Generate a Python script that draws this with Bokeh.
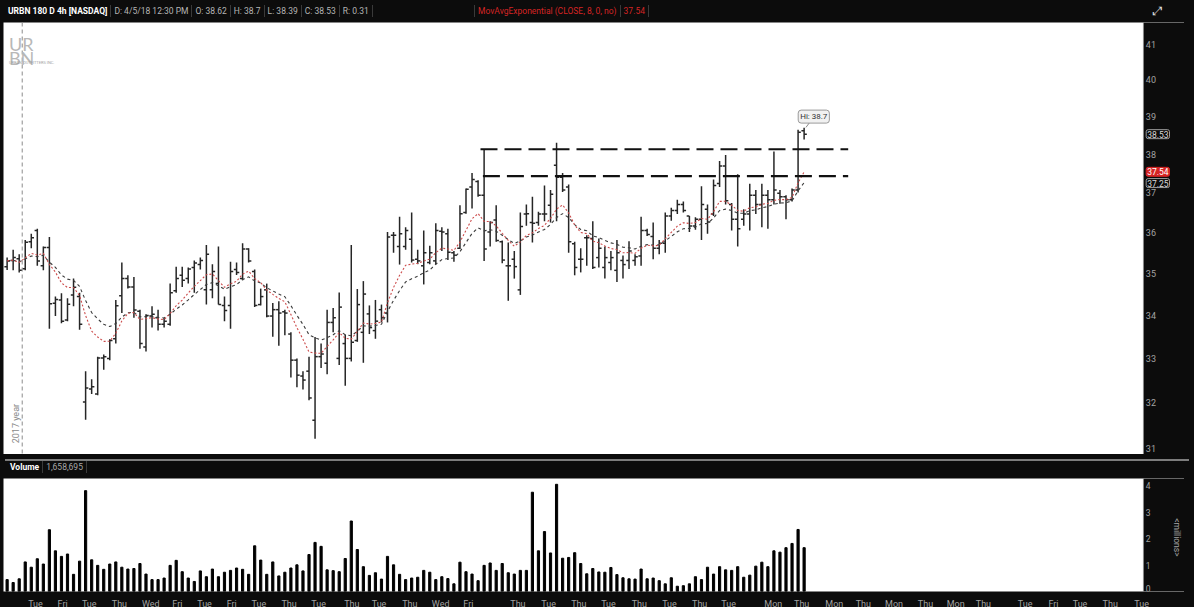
import numpy as np
import pandas as pd
from bokeh.plotting import figure
from bokeh.models import Range1d, FixedTicker, Span, Label, Div, ColumnDataSource
from bokeh.layouts import column
from bokeh.embed import file_html
from bokeh.resources import INLINE
from bokeh.core.properties import value

# ---------------- data ----------------
opens = [35.16, 35.31, 35.35, 35.11, 35.77, 36.05, 35.18, 35.63, 34.28, 34.36,
         33.89, 34.48, 34.44, 32.02, 32.31, 32.20, 33.01, 33.00, 33.45, 34.46,
         34.87, 34.67, 34.09, 33.26, 33.98, 33.94, 33.79, 33.79, 34.58, 34.95,
         34.87, 35.14, 35.21, 34.60, 34.60, 34.75, 34.23, 34.23, 35.09, 34.87,
         35.59, 35.04, 34.25, 34.60, 33.98, 34.13, 34.08, 33.56, 32.96, 32.60,
         32.71, 31.62, 33.04, 32.89, 33.83, 33.00, 33.34, 33.00, 33.41, 33.60,
         34.03, 33.64, 34.13, 34.05, 35.93, 35.65, 35.65, 35.83, 35.34, 35.18,
         35.26, 35.30, 36.03, 35.97, 35.50, 35.61, 36.50, 37.15, 37.29, 36.94,
         36.01, 36.31, 35.77, 35.18, 35.34, 34.60, 36.46, 36.25, 36.25, 36.46,
         36.68, 37.71, 37.40, 37.15, 35.72, 35.34, 35.87, 35.85, 35.38, 35.14,
         35.26, 35.07, 35.31, 35.31, 35.31, 35.42, 36.05, 35.90, 35.61, 35.73,
         36.41, 36.55, 36.70, 36.41, 36.16, 36.33, 36.58, 36.46, 37.24, 37.69,
         36.70, 36.33, 36.33, 36.46, 36.94, 36.70, 36.94, 36.82, 36.99, 36.90,
         36.82, 37.07, 38.62]
highs = [35.38, 35.57, 35.46, 35.81, 35.97, 36.09, 35.65, 35.89, 34.44, 34.52,
         34.40, 34.87, 34.53, 32.71, 32.53, 33.04, 33.09, 33.44, 34.36, 35.26,
         34.95, 34.91, 34.13, 34.02, 34.21, 34.13, 33.94, 34.75, 35.16, 35.16,
         35.14, 35.31, 35.38, 35.69, 35.22, 35.65, 34.44, 35.28, 35.26, 35.73,
         35.61, 35.09, 34.63, 34.75, 34.29, 34.33, 34.13, 33.60, 33.00, 32.71,
         33.04, 33.49, 33.34, 34.13, 34.17, 34.54, 33.55, 35.69, 34.62, 34.81,
         34.23, 34.36, 34.25, 36.01, 36.01, 36.39, 36.13, 36.50, 35.57, 36.05,
         35.67, 36.23, 36.13, 36.09, 35.54, 36.68, 37.11, 37.51, 37.32, 38.13,
         36.28, 36.68, 35.80, 35.75, 35.54, 36.50, 36.70, 36.90, 36.52, 37.19,
         37.07, 38.30, 37.51, 37.21, 35.77, 35.61, 35.93, 36.28, 35.85, 35.65,
         35.54, 35.81, 35.43, 35.78, 35.46, 36.39, 36.09, 36.25, 35.81, 36.50,
         36.62, 36.82, 36.78, 36.41, 36.38, 37.17, 36.70, 37.34, 37.82, 37.98,
         36.74, 37.48, 36.58, 37.23, 37.07, 37.23, 37.07, 38.07, 37.07, 36.94,
         37.11, 38.65, 38.70]
lows = [35.08, 35.07, 35.02, 35.07, 35.61, 35.18, 35.07, 33.68, 33.98, 33.81,
        33.86, 34.21, 33.66, 31.63, 32.20, 32.17, 32.74, 32.96, 33.34, 34.05,
        34.63, 33.94, 33.22, 33.16, 33.71, 33.64, 33.71, 33.75, 34.53, 34.67,
        34.75, 34.53, 35.09, 34.25, 34.40, 34.25, 33.86, 33.68, 34.96, 34.83,
        35.26, 34.19, 34.23, 33.95, 33.50, 33.29, 33.53, 32.57, 32.35, 32.30,
        32.06, 31.22, 32.78, 32.64, 33.60, 32.85, 32.38, 32.93, 33.38, 32.90,
        33.56, 33.45, 33.83, 33.83, 35.50, 35.21, 35.57, 35.26, 35.22, 34.73,
        35.22, 35.22, 35.54, 35.32, 35.28, 35.59, 36.47, 36.60, 36.90, 35.30,
        35.65, 35.77, 35.24, 34.34, 34.87, 34.48, 36.17, 35.75, 36.17, 36.28,
        36.25, 36.28, 37.02, 35.50, 34.95, 35.02, 35.18, 35.10, 35.14, 34.87,
        35.07, 34.79, 34.87, 35.10, 35.18, 35.18, 35.91, 35.34, 35.46, 35.50,
        36.29, 36.46, 36.50, 36.01, 36.07, 35.81, 35.97, 36.41, 37.15, 36.70,
        36.05, 35.65, 36.17, 36.05, 36.46, 36.13, 36.09, 36.70, 36.72, 36.33,
        36.78, 37.01, 38.39]
closes = [35.30, 35.38, 35.07, 35.76, 35.87, 35.30, 35.63, 34.27, 34.37, 33.86,
          34.26, 34.66, 33.79, 32.33, 32.36, 33.01, 33.04, 33.41, 34.22, 34.87,
          34.67, 34.12, 33.34, 33.99, 34.02, 33.79, 33.86, 34.53, 34.87, 34.83,
          35.10, 35.25, 35.31, 35.46, 35.04, 34.25, 34.11, 35.04, 35.02, 35.59,
          35.30, 34.23, 34.44, 33.98, 34.13, 34.05, 34.05, 32.96, 32.62, 32.51,
          32.11, 33.04, 33.10, 33.83, 33.94, 34.19, 33.00, 33.37, 34.25, 34.50,
          33.71, 33.86, 33.94, 35.89, 35.93, 35.97, 36.05, 35.32, 35.30, 35.50,
          35.50, 36.05, 36.01, 35.51, 35.44, 36.47, 37.09, 37.34, 36.94, 35.59,
          36.25, 35.80, 35.32, 35.18, 35.16, 36.15, 36.47, 36.23, 36.46, 36.46,
          36.96, 37.40, 37.07, 35.77, 35.14, 35.34, 35.87, 35.14, 35.61, 35.38,
          35.38, 35.50, 35.21, 35.54, 35.40, 36.05, 35.95, 35.61, 35.73, 36.41,
          36.55, 36.70, 36.55, 36.16, 36.33, 36.70, 36.26, 37.19, 37.69, 36.80,
          36.33, 36.09, 36.46, 36.94, 36.70, 36.94, 36.82, 37.07, 36.90, 36.82,
          37.07, 38.58, 38.53]
volumes_m = [0.45, 0.34, 0.48, 1.12, 0.92, 1.24, 1.04, 2.34, 1.54, 1.33,
             1.42, 0.65, 1.15, 3.82, 1.20, 0.99, 0.84, 1.04, 1.12, 0.92,
             0.85, 0.87, 1.06, 0.66, 0.45, 0.45, 0.51, 0.99, 1.18, 0.75,
             0.51, 0.38, 0.78, 0.56, 0.85, 0.56, 0.73, 0.80, 0.89, 0.84,
             0.65, 1.73, 1.19, 0.65, 1.12, 0.59, 0.73, 0.89, 1.01, 0.78,
             1.40, 1.86, 1.71, 0.82, 0.79, 0.75, 1.25, 2.67, 1.59, 0.94,
             0.61, 0.71, 0.47, 1.33, 1.01, 0.65, 0.45, 0.51, 0.54, 0.80,
             0.73, 0.45, 0.56, 0.49, 0.29, 1.11, 0.75, 0.66, 0.41, 0.99,
             1.08, 0.80, 1.06, 0.71, 0.66, 0.80, 0.80, 3.76, 1.54, 2.27,
             1.46, 4.06, 1.26, 1.29, 1.47, 1.06, 0.67, 0.87, 0.74, 0.73,
             0.91, 0.64, 0.52, 0.48, 0.47, 0.85, 0.48, 0.51, 0.41, 0.29,
             0.52, 0.20, 0.22, 0.29, 0.56, 0.45, 0.92, 0.66, 0.94, 0.82,
             0.80, 0.94, 0.54, 0.62, 0.96, 1.11, 0.94, 1.54, 1.49, 1.66,
             1.82, 2.35, 1.66]

price_ticks = [31, 32, 33, 34, 35, 36, 37, 38, 39, 40, 41]
price_tick_labels = ["31", "32", "33", "34", "35", "36", "37", "38", "39", "40", "41"]
volume_ticks = [0, 1, 2, 3, 4]
volume_tick_labels = ["0", "1", "2", "3", "4"]
day_tick_pos = [4.7, 9.2, 13.6, 18.6, 23.8, 28.2, 32.7, 37.2, 41.7, 46.7, 51.6, 57.1,
                61.6, 66.7, 71.8, 76.4, 84.6, 89.7, 94.7, 99.6, 104.7, 109.7, 114.7,
                119.5, 126.9, 131.6, 137.0, 141.8, 146.9, 152.1, 157.1, 161.7, 168.6,
                173.3, 177.7, 182.7, 187.9]
day_tick_labels = ["Tue", "Fri", "Tue", "Thu", "Wed", "Fri", "Tue", "Fri", "Tue", "Thu", "Tue", "Thu",
                   "Tue", "Thu", "Wed", "Fri", "Thu", "Tue", "Thu", "Tue", "Thu", "Tue", "Thu",
                   "Tue", "Mon", "Thu", "Mon", "Thu", "Mon", "Thu", "Mon", "Thu", "Tue",
                   "Fri", "Tue", "Thu", "Tue"]

level_prices = [38.13, 37.43]
level_start = [78.4, 78.8]
level_end = [139.3, 139.3]
year_mark = 2.5
flag_values = [38.53, 37.54, 37.25]
flag_texts = ["38.53", "37.54", "37.25"]

idx = list(range(len(closes)))
ema_fast = pd.Series(closes).ewm(span=8, adjust=False).mean().tolist()
ema_slow = pd.Series(closes).ewm(span=13, adjust=False).mean().tolist()

# ---------------- styling ----------------
W = 1184
BG = "#0c0c0c"
AX = "#a3a3a3"
BAR = "#262626"
FONT = "Roboto"
X0, XEDGE, X1 = -0.6, 188.2, 195.0      # data range; XEDGE = right edge of the chart area
PY0, PY1 = 30.88, 41.62
VY0, VY1 = 0.0, 4.28

SEP = "border-right:1px solid #3a3a3a;"

def item(text, color, bold=False, extra=""):
    fw = "bold" if bold else "normal"
    return (f'<span style="padding:0 3px;color:{color};font-weight:{fw};{SEP}'
            f'white-space:nowrap;{extra}">{text}</span>')

left_group = "".join([
    item("URBN 180 D 4h [NASDAQ]", "#ffffff", True),
    item("D: 4/5/18 12:30 PM", "#b5b5b5"),
    item("O: 38.62", "#b5b5b5"),
    item("H: 38.7", "#b5b5b5"),
    item("L: 38.39", "#b5b5b5"),
    item("C: 38.53", "#b5b5b5"),
    item("R: 0.31", "#b5b5b5"),
])
red_group = "".join([
    item("", "#777", extra="width:18px;display:inline-block;height:12px;"),
    item("MovAvgExponential (CLOSE, 8, 0, no)", "#d42424"),
    item("37.54", "#d42424"),
])
header_html = (
    f'<div style="position:relative;width:{W}px;height:12px;font-family:{FONT};'
    f'font-size:8.5px;line-height:12px;">'
    f'<div style="position:absolute;left:0;top:0;display:flex;height:12px;">{left_group}</div>'
    f'<div style="position:absolute;left:452px;top:0;display:flex;height:12px;">{red_group}</div>'
    '<div style="position:absolute;left:1148px;top:0;color:#e0e0e0;font-family:DejaVu Sans;'
    'font-size:12px;line-height:12px;">&#x2922;</div>'
    '</div>')
header = Div(text=header_html, width=W, height=12,
             styles={"background-color": BG, "overflow": "hidden"})

# ---------------- price panel ----------------
p = figure(width=W, height=432, y_axis_type="log",
           x_range=Range1d(X0, X1), y_range=Range1d(PY0, PY1),
           output_backend="svg", toolbar_location=None,
           min_border_left=3, min_border_right=0, min_border_top=0, min_border_bottom=0,
           background_fill_color="white", border_fill_color=BG, outline_line_color=None)
p.axis.visible = False
p.grid.visible = False

src = ColumnDataSource(dict(x=idx, o=opens, h=highs, l=lows, c=closes,
                            xl=[i - 0.45 for i in idx], xr=[i + 0.45 for i in idx]))
p.segment("x", "l", "x", "h", source=src, line_color=BAR, line_width=1.5)
p.segment("xl", "o", "x", "o", source=src, line_color=BAR, line_width=1.5)
p.segment("x", "c", "xr", "c", source=src, line_color=BAR, line_width=1.5)

p.line(idx, ema_slow, line_color="#3c3c3c", line_dash="3 3", line_width=1.1)
p.line(idx, ema_fast, line_color="#cc4b4b", line_dash="2 2", line_width=1.1)

p.segment(x0=level_start, y0=level_prices, x1=level_end, y1=level_prices,
          line_color="#111111", line_width=2.2, line_dash="17 7")

p.add_layout(Span(location=year_mark, dimension="height", line_color="#8c8c8c",
                  line_dash="4 3", line_width=1))
p.add_layout(Label(x=year_mark - 0.15, y=31.12, text="2017 year", angle=np.pi / 2,
                   text_font=FONT, text_font_size="9px", text_color="#8a8a8a",
                   text_align="left", text_baseline="bottom"))

# logo
p.add_layout(Label(x=0.3, y=41.33, text="UR", text_font="Lato", text_font_size="18px",
                   text_color="#b8b8b8", text_baseline="top", text_align="left"))
p.add_layout(Label(x=0.3, y=40.93, text="BN", text_font="Lato", text_font_size="18px",
                   text_color="#b8b8b8", text_baseline="top", text_align="left"))
p.add_layout(Label(x=0.3, y=40.55, text="URBAN OUTFITTERS INC.", text_font=FONT,
                   text_font_size="4px", text_color="#a0a0a0", text_baseline="top",
                   text_align="left"))

# high bubble
p.segment(x0=[133.0], y0=[38.86], x1=[132.3], y1=[38.71], line_color="#8a8a8a", line_width=1)
p.add_layout(Label(x=133.6, y=39.0, text="Hi: 38.7", text_font=FONT, text_font_size="8px",
                   text_color="#333333", text_align="center", text_baseline="middle",
                   background_fill_color="#f1f1f1", border_line_color="#9a9a9a",
                   border_radius=3, padding=2))

# right price-scale strip
p.quad(left=[XEDGE], right=[X1 + 1], bottom=[PY0], top=[PY1], fill_color=BG, line_color=None)
p.segment(x0=[XEDGE], y0=[PY0], x1=[XEDGE], y1=[PY1], line_color="#8a8a8a", line_width=1)
p.text(x=[XEDGE + 0.4] * len(price_ticks), y=price_ticks, text=price_tick_labels,
       text_font=value(FONT), text_font_size="9px", text_color=AX,
       text_align="left", text_baseline="middle")

flag_styles = [(BG, "#9a9a9a", "#d8d8d8"), ("#d42424", "#d42424", "#ffffff"), (BG, "#9a9a9a", "#d8d8d8")]
for yv, tx, (fill, border, col) in zip(flag_values, flag_texts, flag_styles):
    p.add_layout(Label(x=XEDGE + 0.45, y=yv, text=tx, text_font=FONT, text_font_size="8.5px",
                       text_color=col, text_align="left", text_baseline="middle",
                       background_fill_color=fill, border_line_color=border,
                       border_radius=2, padding=1))

# ---------------- volume header ----------------
vhead_html = (
    f'<div style="position:relative;width:{W}px;height:14px;font-family:{FONT};'
    f'font-size:8.5px;line-height:12px;">'
    '<div style="position:absolute;left:0;top:0;width:100%;height:2px;background:#7d7d7d;"></div>'
    '<div style="position:absolute;left:2px;top:2px;display:flex;height:12px;">'
    + item("Volume", "#ffffff", True) + item("1,658,695", "#a8a8a8") +
    '</div></div>')
vhead = Div(text=vhead_html, width=W, height=14,
            styles={"background-color": BG, "overflow": "hidden"})

# ---------------- volume panel ----------------
v = figure(width=W, height=133, x_range=p.x_range, y_range=Range1d(VY0, VY1),
           output_backend="svg", toolbar_location=None,
           min_border_left=3, min_border_right=0, min_border_top=0, min_border_bottom=14,
           background_fill_color="white", border_fill_color=BG, outline_line_color=None)
v.grid.visible = False
v.yaxis.visible = False
v.vbar(x=idx, top=volumes_m, width=0.36, color="black")

v.quad(left=[XEDGE], right=[X1 + 1], bottom=[VY0], top=[VY1], fill_color=BG, line_color=None)
v.segment(x0=[XEDGE], y0=[VY0], x1=[XEDGE], y1=[VY1], line_color="#8a8a8a", line_width=1)
v.text(x=[XEDGE + 0.4] * len(volume_ticks), y=volume_ticks, text=volume_tick_labels,
       text_font=value(FONT), text_font_size="8.5px", text_color=AX,
       text_align="left", text_baseline=["bottom", "middle", "middle", "middle", "middle"])
v.add_layout(Label(x=X1 - 1.2, y=2.05, text="<millions>", angle=-np.pi / 2,
                   text_font=FONT, text_font_size="8.5px", text_color=AX,
                   text_align="center", text_baseline="middle"))

vx = v.xaxis[0]
vx.ticker = FixedTicker(ticks=day_tick_pos)
vx.major_label_overrides = dict(zip(day_tick_pos, day_tick_labels))
vx.major_label_text_color = AX
vx.major_label_text_font = FONT
vx.major_label_text_font_size = "9px"
vx.axis_line_color = None
vx.major_tick_line_color = None
vx.minor_tick_line_color = None
vx.major_label_standoff = 1

layout = column(header, p, vhead, v, spacing=0, styles={"background-color": BG})

open("out.html", "w").write(file_html(layout, INLINE))
